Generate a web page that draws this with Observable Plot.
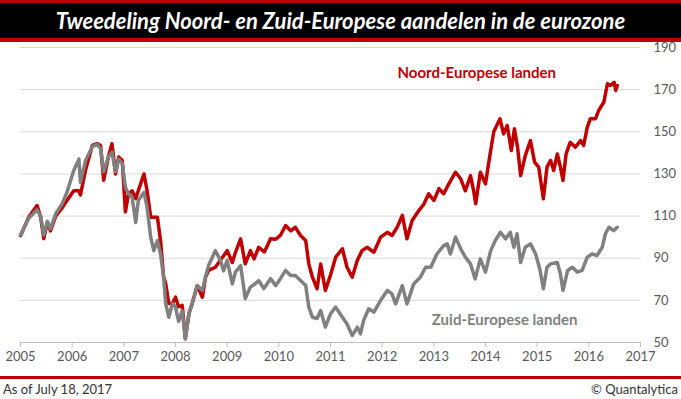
<!DOCTYPE html>
<html><head><meta charset="utf-8">
<script src="https://cdn.jsdelivr.net/npm/d3@7"></script>
<script src="https://cdn.jsdelivr.net/npm/@observablehq/plot@0.6"></script>
<style>
html,body{margin:0;padding:0;background:#fff;}
body{width:681px;height:399px;overflow:hidden;font-family:Lato,sans-serif;}
#title{position:relative;z-index:2;height:35px;background:#000;border-top:3px solid #C00000;border-bottom:4px solid #C00000;color:#fff;font:italic bold 22px Lato,sans-serif;text-align:center;line-height:35px;}
#chart{margin-top:-8px;position:relative;z-index:1;}
#chart svg{display:block;}
#footer{border-top:3px solid #C00000;height:20px;display:flex;justify-content:space-between;font:13px Lato,sans-serif;color:#333;padding:0 3px;line-height:20px;}
</style></head><body>
<div id="title">Tweedeling Noord- en Zuid-Europese aandelen in de eurozone</div>
<div id="chart"></div>
<div id="footer"><span>As of July 18, 2017</span><span>© Quantalytica</span></div>
<script>
const xTicks = [2005,2006,2007,2008,2009,2010,2011,2012,2013,2014,2015,2016,2017];
const yTicks = [50,70,90,110,130,150,170,190];

const noordT = [
2005.00,2005.16,2005.32,2005.39,2005.45,2005.52,2005.58,2005.68,2005.81,2005.90,
2006.03,2006.13,2006.16,2006.26,2006.39,2006.48,2006.55,2006.61,2006.70,2006.77,
2006.84,2006.90,2006.97,2007.03,2007.09,2007.16,2007.23,2007.28,2007.39,2007.45,
2007.52,2007.58,2007.65,2007.71,2007.77,2007.81,2007.87,2007.94,2008.00,2008.06,
2008.13,2008.19,2008.26,2008.32,2008.42,2008.52,2008.58,2008.64,2008.77,2008.87,
2009.00,2009.10,2009.16,2009.26,2009.35,2009.45,2009.52,2009.61,2009.72,2009.84,
2009.94,2010.03,2010.13,2010.23,2010.32,2010.42,2010.52,2010.58,2010.65,2010.74,
2010.81,2010.90,2011.00,2011.10,2011.23,2011.32,2011.42,2011.52,2011.61,2011.71,
2011.84,2011.97,2012.10,2012.19,2012.29,2012.39,2012.48,2012.58,2012.71,2012.81,
2012.90,2013.00,2013.10,2013.19,2013.29,2013.42,2013.52,2013.61,2013.71,2013.77,
2013.81,2013.90,2014.00,2014.08,2014.16,2014.28,2014.35,2014.42,2014.50,2014.56,
2014.62,2014.68,2014.77,2014.87,2014.95,2015.03,2015.12,2015.19,2015.26,2015.32,
2015.39,2015.45,2015.50,2015.56,2015.64,2015.74,2015.84,2015.90,2015.97,2016.03,
2016.13,2016.19,2016.29,2016.36,2016.42,2016.49,2016.52,2016.55];
const noordV = [
100.7,109.5,115,109.5,99.3,107,103,110,114,117.4,
122,122,120,132,143.5,144.4,143.5,127,138,144.3,
130,138,136.4,112,120.6,122,118.3,122,130,122,
109.5,109.5,109.5,98.4,81,78,68.5,68.5,71.5,67,
67.6,51.8,63.6,68.3,77,71.5,81,84.2,85.7,89,
93.6,88,92.8,99.2,87.3,93.6,89.7,95.2,93,99.2,
99,100.8,105.5,103,104.7,100.8,98.4,87.3,81,75.5,
87.3,74.7,82,90.5,94.5,85.7,81,89,93.6,95.2,
92.8,100,102.3,100.8,104.7,110.3,99.2,107.9,112.6,115.8,
120.6,117.4,123,120.6,125.3,130.8,127.7,122,129.2,122,
115.8,130.8,125.3,138,150,156.2,149,153,141.1,151.4,
142.7,129.2,138.7,145.8,135.6,133.2,118.2,133.2,136.4,131.6,
139.5,133.2,126.9,139.5,145,142.7,145.8,143.5,152.2,156.2,
156.2,160.1,164,172.8,172,173.5,169.6,172];

const zuidT = [
2005.00,2005.16,2005.32,2005.39,2005.45,2005.52,2005.58,2005.68,2005.81,2005.90,
2006.03,2006.13,2006.16,2006.26,2006.39,2006.48,2006.55,2006.61,2006.70,2006.77,
2006.84,2006.90,2006.97,2007.03,2007.09,2007.16,2007.23,2007.28,2007.39,2007.45,
2007.52,2007.58,2007.65,2007.71,2007.77,2007.81,2007.87,2007.94,2008.00,2008.06,
2008.13,2008.19,2008.26,2008.32,2008.42,2008.52,2008.58,2008.64,2008.77,2008.87,
2008.93,2009.00,2009.10,2009.16,2009.26,2009.35,2009.45,2009.52,2009.61,2009.71,
2009.84,2009.94,2010.03,2010.13,2010.23,2010.32,2010.42,2010.52,2010.58,2010.65,
2010.74,2010.81,2010.90,2011.00,2011.10,2011.23,2011.32,2011.42,2011.52,2011.58,
2011.64,2011.74,2011.84,2011.97,2012.10,2012.19,2012.26,2012.39,2012.48,2012.61,
2012.74,2012.84,2012.94,2013.06,2013.19,2013.26,2013.32,2013.42,2013.52,2013.61,
2013.71,2013.80,2013.90,2014.00,2014.10,2014.19,2014.29,2014.39,2014.48,2014.55,
2014.61,2014.68,2014.77,2014.87,2014.97,2015.05,2015.12,2015.19,2015.26,2015.39,
2015.45,2015.50,2015.59,2015.68,2015.78,2015.87,2015.97,2016.06,2016.16,2016.26,
2016.32,2016.39,2016.48,2016.55];
const zuidV = [
101,109,113,110,101,107.5,104,111,116,121.3,
131.6,137,126,136.4,143,144,142,131,138,140.3,
131,137,135,123.7,120.6,119,107,117.4,121.3,114.2,
100,93.6,98.4,92,81,68.5,62,68.5,66.8,60,
65,51.8,63.6,68.3,77,74.7,81,86.5,93.6,89,
84,89,77.8,83.4,86.5,70.9,76.3,77.5,79.4,75.6,
80.3,77,80.3,84.2,81.8,81.8,79.4,77,66.8,62,
61.4,65.2,57.3,63.6,66.8,62,58.8,53.3,57.3,54.1,
60.4,66,64.4,70,74.7,73.1,68.3,77,68.3,77.8,
81,85.7,85.7,92,96,96.8,92,100,94.5,90.5,
87.3,80.2,89.7,83.4,93.6,98.4,102.3,99.2,102.3,95.2,
101.6,88,95.2,96.8,92,85,75.5,85.7,87.3,88,
82.5,74.7,84.2,85.7,83.4,84.2,90.5,92,91.3,95.2,
101.6,104.7,103.1,104.7];

const noord = noordT.map((t, i) => ({t, v: noordV[i]}));
const zuid = zuidT.map((t, i) => ({t, v: zuidV[i]}));

const chart = Plot.plot({
  width: 681, height: 342,
  marginLeft: 20, marginRight: 41, marginTop: 13, marginBottom: 34,
  style: {fontFamily: "Lato, sans-serif", fontSize: "13px", color: "#595959", background: "transparent"},
  x: {domain: [2005, 2017], label: null},
  y: {domain: [50, 190], label: null},
  marks: [
    Plot.gridY(yTicks, {stroke: "#D9D9D9", strokeOpacity: 1}),
    Plot.ruleY([50], {stroke: "#BFBFBF"}),
    Plot.axisX(xTicks, {label: null, tickSize: 5, tickPadding: 4, stroke: "#BFBFBF", fill: "#595959", tickFormat: d => String(d)}),
    Plot.axisY(yTicks, {label: null, anchor: "right", tickSize: 0, tickPadding: 13, fill: "#595959", textAnchor: "start"}),
    Plot.line(noord, {x: "t", y: "v", stroke: "#C00000", strokeWidth: 3.5}),
    Plot.line(zuid, {x: "t", y: "v", stroke: "#808080", strokeWidth: 3.5}),
    Plot.text(["Noord-Europese landen"], {x: 2013.83, y: 177.7, text: d => d, fill: "#C00000", fontWeight: "bold", fontSize: 15}),
    Plot.text(["Zuid-Europese landen"], {x: 2014.37, y: 60.4, text: d => d, fill: "#7F7F7F", fontWeight: "bold", fontSize: 15})
  ]
});
document.getElementById("chart").appendChild(chart);
</script>
</body></html>
